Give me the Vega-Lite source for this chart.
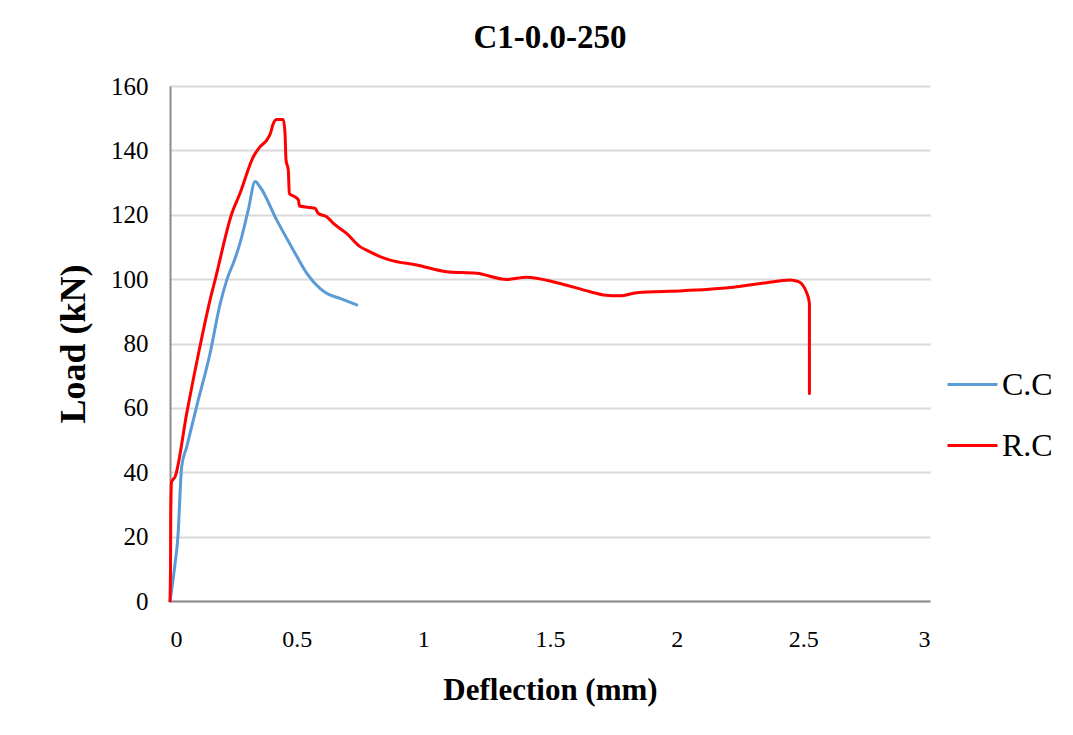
{
  "$schema": "https://vega.github.io/schema/vega-lite/v6.json",
  "width": 760,
  "height": 515,
  "autosize": {"type": "none"},
  "padding": {"left": 170, "top": 86, "right": 143, "bottom": 134},
  "background": "white",
  "config": {
    "font": "Liberation Serif",
    "view": {"stroke": null},
    "axis": {"labelColor": "black", "titleColor": "black"}
  },
  "title": {
    "text": "C1-0.0-250",
    "font": "Liberation Serif",
    "fontSize": 33,
    "fontWeight": "bold",
    "color": "black",
    "anchor": "middle",
    "offset": 19
  },
  "data": {
    "values": [
      {"s": "C.C", "i": 0, "x": 0.0, "y": 0.0},
      {"s": "C.C", "i": 1, "x": 0.02, "y": 11.7},
      {"s": "C.C", "i": 2, "x": 0.033, "y": 22},
      {"s": "C.C", "i": 3, "x": 0.039, "y": 32.4},
      {"s": "C.C", "i": 4, "x": 0.046, "y": 41.7},
      {"s": "C.C", "i": 5, "x": 0.066, "y": 47.9},
      {"s": "C.C", "i": 6, "x": 0.105, "y": 60.4},
      {"s": "C.C", "i": 7, "x": 0.158, "y": 76.9},
      {"s": "C.C", "i": 8, "x": 0.197, "y": 92},
      {"s": "C.C", "i": 9, "x": 0.224, "y": 99.7},
      {"s": "C.C", "i": 10, "x": 0.255, "y": 106},
      {"s": "C.C", "i": 11, "x": 0.276, "y": 111.1},
      {"s": "C.C", "i": 12, "x": 0.309, "y": 121.5},
      {"s": "C.C", "i": 13, "x": 0.336, "y": 130.3},
      {"s": "C.C", "i": 14, "x": 0.355, "y": 128.7},
      {"s": "C.C", "i": 15, "x": 0.421, "y": 118.4},
      {"s": "C.C", "i": 16, "x": 0.487, "y": 109},
      {"s": "C.C", "i": 17, "x": 0.54, "y": 101.8},
      {"s": "C.C", "i": 18, "x": 0.592, "y": 97.1},
      {"s": "C.C", "i": 19, "x": 0.618, "y": 95.6},
      {"s": "C.C", "i": 20, "x": 0.671, "y": 94},
      {"s": "C.C", "i": 21, "x": 0.737, "y": 92},
      {"s": "R.C", "i": 0, "x": 0.0, "y": 0.0},
      {"s": "R.C", "i": 1, "x": 0.002, "y": 10},
      {"s": "R.C", "i": 2, "x": 0.003, "y": 27},
      {"s": "R.C", "i": 3, "x": 0.006, "y": 37},
      {"s": "R.C", "i": 4, "x": 0.02, "y": 38.6},
      {"s": "R.C", "i": 5, "x": 0.066, "y": 58.3},
      {"s": "R.C", "i": 6, "x": 0.118, "y": 79},
      {"s": "R.C", "i": 7, "x": 0.158, "y": 93.5},
      {"s": "R.C", "i": 8, "x": 0.178, "y": 99.7},
      {"s": "R.C", "i": 9, "x": 0.244, "y": 120.4},
      {"s": "R.C", "i": 10, "x": 0.276, "y": 126.6},
      {"s": "R.C", "i": 11, "x": 0.329, "y": 138},
      {"s": "R.C", "i": 12, "x": 0.355, "y": 141.1},
      {"s": "R.C", "i": 13, "x": 0.382, "y": 143.2},
      {"s": "R.C", "i": 14, "x": 0.395, "y": 145},
      {"s": "R.C", "i": 15, "x": 0.408, "y": 148.4},
      {"s": "R.C", "i": 16, "x": 0.421, "y": 149.6},
      {"s": "R.C", "i": 17, "x": 0.447, "y": 149.6},
      {"s": "R.C", "i": 18, "x": 0.454, "y": 145.3},
      {"s": "R.C", "i": 19, "x": 0.458, "y": 137},
      {"s": "R.C", "i": 20, "x": 0.467, "y": 133.9},
      {"s": "R.C", "i": 21, "x": 0.471, "y": 126.6},
      {"s": "R.C", "i": 22, "x": 0.493, "y": 125.6},
      {"s": "R.C", "i": 23, "x": 0.507, "y": 124.6},
      {"s": "R.C", "i": 24, "x": 0.511, "y": 122.7},
      {"s": "R.C", "i": 25, "x": 0.572, "y": 122},
      {"s": "R.C", "i": 26, "x": 0.586, "y": 120.4},
      {"s": "R.C", "i": 27, "x": 0.618, "y": 119.4},
      {"s": "R.C", "i": 28, "x": 0.645, "y": 117.3},
      {"s": "R.C", "i": 29, "x": 0.697, "y": 114.2},
      {"s": "R.C", "i": 30, "x": 0.75, "y": 110.1},
      {"s": "R.C", "i": 31, "x": 0.776, "y": 109},
      {"s": "R.C", "i": 32, "x": 0.829, "y": 107},
      {"s": "R.C", "i": 33, "x": 0.869, "y": 105.9},
      {"s": "R.C", "i": 34, "x": 0.974, "y": 104.4},
      {"s": "R.C", "i": 35, "x": 1.092, "y": 102.3},
      {"s": "R.C", "i": 36, "x": 1.211, "y": 101.8},
      {"s": "R.C", "i": 37, "x": 1.329, "y": 99.9},
      {"s": "R.C", "i": 38, "x": 1.408, "y": 100.6},
      {"s": "R.C", "i": 39, "x": 1.527, "y": 98.9},
      {"s": "R.C", "i": 40, "x": 1.658, "y": 96.1},
      {"s": "R.C", "i": 41, "x": 1.711, "y": 95.1},
      {"s": "R.C", "i": 42, "x": 1.777, "y": 94.8},
      {"s": "R.C", "i": 43, "x": 1.842, "y": 95.8},
      {"s": "R.C", "i": 44, "x": 2.026, "y": 96.4},
      {"s": "R.C", "i": 45, "x": 2.224, "y": 97.5},
      {"s": "R.C", "i": 46, "x": 2.355, "y": 98.9},
      {"s": "R.C", "i": 47, "x": 2.448, "y": 99.7},
      {"s": "R.C", "i": 48, "x": 2.481, "y": 99.2},
      {"s": "R.C", "i": 49, "x": 2.514, "y": 95.6},
      {"s": "R.C", "i": 50, "x": 2.524, "y": 92.5},
      {"s": "R.C", "i": 51, "x": 2.524, "y": 64.5}
    ]
  },
  "mark": {"type": "line", "strokeWidth": 3, "interpolate": "monotone", "strokeJoin": "round", "strokeCap": "round"},
  "encoding": {
    "x": {
      "field": "x",
      "type": "quantitative",
      "scale": {"domain": [0, 3], "nice": false, "zero": true},
      "axis": {
        "title": "Deflection (mm)",
        "titleFontSize": 31,
        "titleFontWeight": "bold",
        "titleFont": "Liberation Serif",
        "titlePadding": 24,
        "values": [0, 0.5, 1, 1.5, 2, 2.5, 3],
        "labelExpr": "toString(datum.value)",
        "labelFontSize": 24,
        "labelPadding": 26,
        "ticks": false,
        "grid": false,
        "domainColor": "#8c8c8c",
        "domainWidth": 2
      }
    },
    "y": {
      "field": "y",
      "type": "quantitative",
      "scale": {"domain": [0, 160], "nice": false},
      "axis": {
        "title": "Load (kN)",
        "titleFontSize": 36,
        "titleFontWeight": "bold",
        "titleFont": "Liberation Serif",
        "titlePadding": 18,
        "values": [0, 20, 40, 60, 80, 100, 120, 140, 160],
        "labelFontSize": 25,
        "labelPadding": 22,
        "ticks": false,
        "grid": true,
        "gridColor": "#d9d9d9",
        "gridWidth": 2,
        "domainColor": "#8c8c8c",
        "domainWidth": 2
      }
    },
    "color": {
      "field": "s",
      "type": "nominal",
      "scale": {"domain": ["C.C", "R.C"], "range": ["#5B9BD5", "#FF0000"]},
      "legend": {
        "title": null,
        "orient": "none",
        "legendX": 776,
        "legendY": 272,
        "padding": 0,
        "symbolType": "stroke",
        "symbolSize": 2500,
        "symbolStrokeWidth": 3,
        "labelFontSize": 32,
        "labelFont": "Liberation Serif",
        "labelColor": "black",
        "labelOffset": 3,
        "rowPadding": 18
      }
    },
    "order": {"field": "i", "type": "quantitative"}
  }
}
